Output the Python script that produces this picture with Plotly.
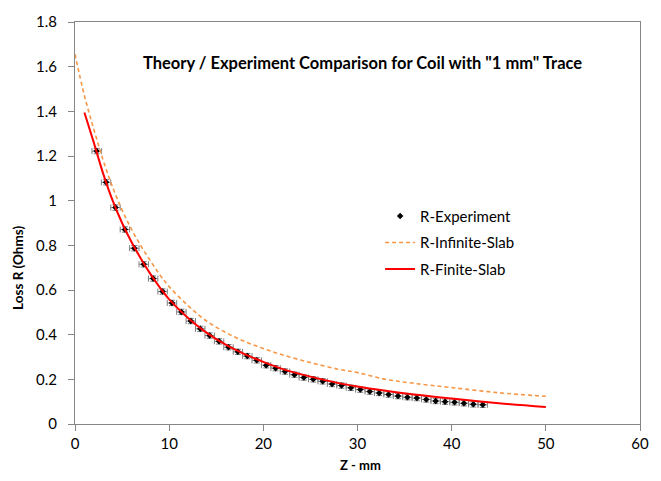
import plotly.graph_objects as go

# Experiment data (Z in mm, R in Ohms)
exp_z = [2.3, 3.3, 4.3, 5.3, 6.3, 7.3, 8.3, 9.3, 10.3, 11.3, 12.3, 13.3, 14.3, 15.3,
         16.3, 17.3, 18.3, 19.3, 20.3, 21.3, 22.3, 23.3, 24.3, 25.3, 26.3, 27.3, 28.3,
         29.3, 30.3, 31.3, 32.3, 33.3, 34.3, 35.3, 36.3, 37.3, 38.3, 39.3, 40.3, 41.3,
         42.3, 43.3]
exp_r = [1.222, 1.082, 0.969, 0.871, 0.787, 0.715, 0.651, 0.593, 0.542, 0.502, 0.461,
         0.426, 0.396, 0.370, 0.344, 0.323, 0.304, 0.285, 0.263, 0.250, 0.235, 0.221,
         0.208, 0.200, 0.191, 0.179, 0.172, 0.162, 0.154, 0.145, 0.139, 0.132, 0.125,
         0.120, 0.116, 0.110, 0.103, 0.100, 0.097, 0.093, 0.088, 0.086]
exp_z_err = 0.5
exp_r_err = 0.012

# Infinite-slab theory
inf_z = [0, 1, 2, 3, 4, 5, 6, 7, 8, 9, 10, 12, 14, 16, 18, 20, 22, 25, 28, 30, 33, 36, 40, 45, 50]
inf_r = [1.656, 1.47, 1.32, 1.18, 1.06, 0.958, 0.872, 0.797, 0.731, 0.669, 0.615, 0.53,
         0.46, 0.41, 0.37, 0.338, 0.31, 0.275, 0.245, 0.23, 0.20, 0.182, 0.163, 0.14, 0.124]

# Finite-slab theory
fin_z = [1, 2, 3, 4, 5, 6, 7, 8, 9, 10, 12, 14, 16, 18, 20, 22, 25, 28, 30, 33, 36, 40, 45, 50]
fin_r = [1.395, 1.26, 1.12, 1.0, 0.90, 0.815, 0.74, 0.672, 0.612, 0.558, 0.475, 0.408,
         0.355, 0.313, 0.278, 0.247, 0.212, 0.183, 0.168, 0.149, 0.132, 0.114, 0.093, 0.076]

x_ticks = [0, 10, 20, 30, 40, 50, 60]
y_ticks = [0, 0.2, 0.4, 0.6, 0.8, 1.0, 1.2, 1.4, 1.6, 1.8]
y_tick_text = ["0", "0.2", "0.4", "0.6", "0.8", "1", "1.2", "1.4", "1.6", "1.8"]

FONT = "Lato, 'Open Sans', sans-serif"

fig = go.Figure()
fig.add_trace(go.Scatter(
    x=exp_z, y=exp_r, mode="markers", name="R-Experiment",
    marker=dict(symbol="diamond", size=5, color="black"),
    error_x=dict(type="constant", value=exp_z_err, color="#7f7f7f", thickness=1, width=3),
    error_y=dict(type="constant", value=exp_r_err, color="#7f7f7f", thickness=1, width=3),
    legendgroup="a",
))
fig.add_trace(go.Scatter(
    x=inf_z, y=inf_r, mode="lines", name="R-Infinite-Slab",
    line=dict(color="#F79646", width=1.6, dash="4px,3px", shape="spline"),
    legendgroup="b",
))
fig.add_trace(go.Scatter(
    x=fin_z, y=fin_r, mode="lines", name="R-Finite-Slab",
    line=dict(color="#FF0000", width=2, shape="spline"),
    legendgroup="c",
))

fig.update_layout(
    width=661, height=481,
    margin=dict(l=75, r=19, t=15, b=57),
    paper_bgcolor="white", plot_bgcolor="white",
    font=dict(family=FONT, size=15, color="black"),
    showlegend=True,
    legend=dict(x=0.54, y=0.558, xanchor="left", yanchor="top",
                bgcolor="rgba(0,0,0,0)", font=dict(size=15),
                traceorder="grouped", tracegroupgap=4),
    xaxis=dict(range=[0, 60], tickvals=x_ticks, showgrid=False, zeroline=False,
               showline=True, linecolor="#868686", linewidth=1, mirror=True,
               ticks="outside", ticklen=6, tickcolor="#868686",
               tickfont=dict(size=15)),
    yaxis=dict(range=[0, 1.8], tickvals=y_ticks, ticktext=y_tick_text,
               showgrid=False, zeroline=False,
               showline=True, linecolor="#868686", linewidth=1, mirror=True,
               ticks="outside", ticklen=6, tickcolor="#868686",
               tickfont=dict(size=15), ticklabelstandoff=8),
    annotations=[
        dict(text='<b>Theory / Experiment Comparison for Coil with "1 mm" Trace</b>',
             xref="paper", yref="paper", x=(364 - 75) / 567, y=(424 - 57) / 409,
             xanchor="center", yanchor="middle", showarrow=False,
             font=dict(size=16.5, family=FONT)),
        dict(text="<b>Z - mm</b>", xref="paper", yref="paper",
             x=(362 - 75) / 567, y=(424 - 466) / 409, xanchor="center", yanchor="middle",
             showarrow=False, font=dict(size=13, family=FONT)),
        dict(text="<b>Loss R (Ohms)</b>", xref="paper", yref="paper",
             x=(18 - 75) / 567, y=(424 - 265) / 409, xanchor="center", yanchor="middle",
             textangle=-90, showarrow=False, font=dict(size=13.5, family=FONT)),
    ],
)

fig.write_html("out.html")
